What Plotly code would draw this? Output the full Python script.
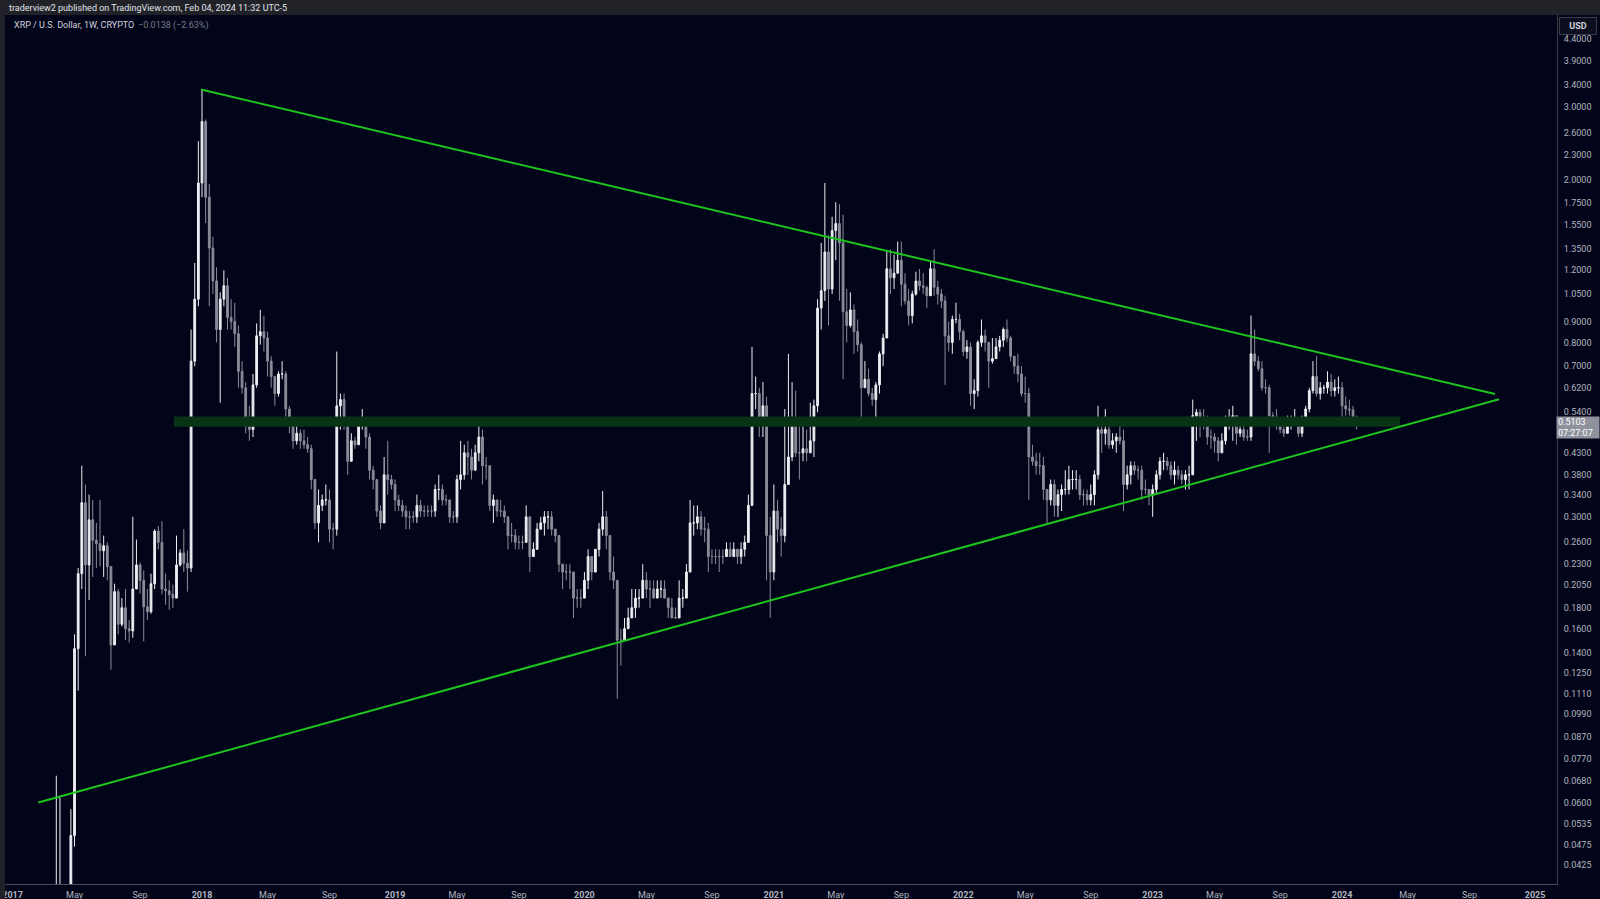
import plotly.graph_objects as go
import pandas as pd

# ---------------- data (weekly XRP / USD, bars start on Mondays) ----------------
first_week = "2017-03-27"
first_open = 0.0095

close_2017 = [0.030, 0.034, 0.032, 0.034, 0.050, 0.143, 0.218, 0.325, 0.229, 0.295,
              0.263, 0.258, 0.248, 0.255, 0.227, 0.146, 0.197, 0.164, 0.180, 0.160,
              0.158, 0.200, 0.229, 0.210, 0.181, 0.176, 0.206, 0.277, 0.260, 0.200,
              0.198, 0.194, 0.190, 0.229, 0.245, 0.231, 0.225, 0.720, 1.020, 1.960]
high_2017 = [0.070, 0.062, 0.036, 0.037, 0.058, 0.155, 0.225, 0.400, 0.360, 0.340,
             0.330, 0.290, 0.330, 0.270, 0.260, 0.227, 0.206, 0.200, 0.190, 0.200,
             0.168, 0.300, 0.264, 0.232, 0.222, 0.200, 0.218, 0.280, 0.285, 0.293,
             0.218, 0.210, 0.205, 0.270, 0.250, 0.280, 0.248, 0.860, 1.250, 2.480]
low_2017 = [0.009, 0.026, 0.029, 0.030, 0.033, 0.047, 0.113, 0.200, 0.137, 0.188,
            0.214, 0.225, 0.227, 0.214, 0.210, 0.127, 0.146, 0.155, 0.162, 0.150,
            0.148, 0.152, 0.200, 0.195, 0.149, 0.168, 0.174, 0.200, 0.250, 0.194,
            0.183, 0.178, 0.180, 0.190, 0.227, 0.220, 0.197, 0.220, 0.700, 0.980]

close_2018 = [2.77, 1.81, 1.36, 1.13, 0.86, 1.02, 1.10, 0.92, 0.90, 0.84, 0.68, 0.62, 0.50,
              0.49, 0.63, 0.83, 0.85, 0.82, 0.72, 0.66, 0.60, 0.67, 0.67, 0.55, 0.50, 0.46,
              0.48, 0.46, 0.45, 0.44, 0.37, 0.29, 0.32, 0.33, 0.33, 0.28, 0.28, 0.56, 0.58,
              0.51, 0.41, 0.46, 0.45, 0.50, 0.51, 0.47, 0.39, 0.37, 0.31, 0.29, 0.38, 0.37, 0.36]
high_2018 = [3.31, 2.80, 1.95, 1.45, 1.22, 1.06, 1.20, 1.15, 1.02, 1.00, 0.88, 0.72, 0.64,
             0.56, 0.67, 0.89, 0.96, 0.93, 0.85, 0.74, 0.66, 0.68, 0.72, 0.68, 0.56, 0.50,
             0.51, 0.49, 0.49, 0.47, 0.45, 0.37, 0.35, 0.34, 0.36, 0.35, 0.29, 0.76, 0.60,
             0.60, 0.51, 0.48, 0.47, 0.51, 0.55, 0.52, 0.48, 0.40, 0.37, 0.32, 0.42, 0.46, 0.38]
low_2018 = [1.81, 1.565, 0.98, 1.05, 0.80, 0.57, 0.98, 0.86, 0.86, 0.78, 0.62, 0.60, 0.48,
            0.46, 0.47, 0.62, 0.79, 0.76, 0.66, 0.62, 0.56, 0.59, 0.65, 0.50, 0.48, 0.44,
            0.45, 0.44, 0.44, 0.43, 0.35, 0.28, 0.26, 0.31, 0.32, 0.26, 0.25, 0.27, 0.49,
            0.49, 0.38, 0.41, 0.44, 0.45, 0.49, 0.44, 0.37, 0.35, 0.30, 0.28, 0.29, 0.34, 0.35]

close_2019 = [0.33, 0.32, 0.31, 0.30, 0.30, 0.30, 0.32, 0.31, 0.31, 0.31, 0.31, 0.35,
              0.35, 0.33, 0.33, 0.30, 0.30, 0.37, 0.38, 0.43, 0.42, 0.39, 0.43, 0.47, 0.40,
              0.40, 0.32, 0.33, 0.31, 0.31, 0.30, 0.27, 0.27, 0.26, 0.26, 0.26, 0.30, 0.24, 0.25,
              0.28, 0.29, 0.30, 0.30, 0.28, 0.27, 0.23, 0.22, 0.22, 0.22, 0.19, 0.19, 0.19]
high_2019 = [0.37, 0.34, 0.33, 0.32, 0.31, 0.31, 0.34, 0.33, 0.32, 0.32, 0.32, 0.36,
             0.38, 0.36, 0.34, 0.33, 0.31, 0.38, 0.46, 0.45, 0.46, 0.44, 0.45, 0.50, 0.49,
             0.42, 0.40, 0.34, 0.33, 0.33, 0.32, 0.30, 0.29, 0.28, 0.27, 0.27, 0.32, 0.30, 0.26,
             0.29, 0.30, 0.31, 0.31, 0.31, 0.28, 0.27, 0.23, 0.23, 0.23, 0.22, 0.20, 0.20]
low_2019 = [0.31, 0.31, 0.30, 0.28, 0.28, 0.29, 0.29, 0.30, 0.30, 0.30, 0.30, 0.30,
            0.33, 0.32, 0.32, 0.29, 0.29, 0.29, 0.35, 0.37, 0.38, 0.37, 0.39, 0.41, 0.36,
            0.37, 0.31, 0.29, 0.30, 0.30, 0.29, 0.25, 0.26, 0.25, 0.25, 0.25, 0.26, 0.22, 0.24,
            0.25, 0.28, 0.27, 0.28, 0.27, 0.26, 0.22, 0.20, 0.21, 0.20, 0.17, 0.18, 0.18]

close_2020 = [0.21, 0.24, 0.22, 0.25, 0.28, 0.30, 0.27, 0.22, 0.21, 0.15, 0.15, 0.16, 0.17,
              0.18, 0.19, 0.19, 0.21, 0.20, 0.20, 0.19, 0.20, 0.20, 0.19, 0.18, 0.17, 0.17,
              0.19, 0.19, 0.22, 0.29, 0.29, 0.30, 0.28, 0.28, 0.24, 0.24, 0.24, 0.24, 0.24,
              0.25, 0.24, 0.25, 0.24, 0.25, 0.26, 0.32, 0.60, 0.60, 0.50, 0.56, 0.27, 0.22]
high_2020 = [0.22, 0.25, 0.24, 0.25, 0.29, 0.347, 0.31, 0.27, 0.24, 0.21, 0.16, 0.17, 0.18,
             0.20, 0.20, 0.20, 0.23, 0.22, 0.21, 0.21, 0.21, 0.21, 0.21, 0.19, 0.19, 0.18,
             0.21, 0.20, 0.23, 0.33, 0.32, 0.32, 0.31, 0.30, 0.29, 0.25, 0.25, 0.25, 0.25,
             0.26, 0.26, 0.26, 0.25, 0.26, 0.27, 0.34, 0.78, 0.66, 0.62, 0.64, 0.59, 0.30]
low_2020 = [0.19, 0.20, 0.21, 0.22, 0.24, 0.27, 0.25, 0.21, 0.20, 0.108, 0.13, 0.15, 0.16,
            0.17, 0.17, 0.18, 0.19, 0.19, 0.18, 0.19, 0.19, 0.19, 0.19, 0.17, 0.17, 0.17,
            0.17, 0.18, 0.19, 0.22, 0.27, 0.28, 0.27, 0.26, 0.22, 0.23, 0.23, 0.22, 0.23,
            0.24, 0.24, 0.24, 0.23, 0.23, 0.24, 0.26, 0.32, 0.55, 0.47, 0.47, 0.21, 0.17]

close_2021 = [0.31, 0.28, 0.27, 0.36, 0.42, 0.52, 0.43, 0.43, 0.44, 0.43, 0.46, 0.56, 0.97,
              1.07, 1.33, 1.08, 1.50, 1.56, 1.40, 0.95, 0.88, 0.96, 0.85, 0.79, 0.62, 0.65,
              0.60, 0.58, 0.63, 0.75, 0.82, 1.21, 1.15, 1.18, 1.27, 1.11, 1.01, 0.93, 1.05,
              1.13, 1.10, 1.09, 1.04, 1.21, 1.09, 1.05, 1.01, 0.83, 0.80, 0.91, 0.91, 0.85]
high_2021 = [0.36, 0.33, 0.30, 0.55, 0.75, 0.64, 0.61, 0.50, 0.50, 0.49, 0.57, 0.58, 1.02,
             1.40, 1.96, 1.46, 1.62, 1.76, 1.74, 1.64, 1.08, 1.06, 0.99, 0.91, 0.80, 0.72,
             0.69, 0.62, 0.64, 0.76, 0.84, 1.34, 1.35, 1.31, 1.41, 1.41, 1.18, 1.08, 1.07,
             1.19, 1.21, 1.18, 1.10, 1.26, 1.35, 1.13, 1.08, 1.04, 0.90, 0.93, 1.00, 0.94]
low_2021 = [0.21, 0.26, 0.24, 0.26, 0.36, 0.41, 0.42, 0.37, 0.41, 0.41, 0.43, 0.42, 0.54,
            0.86, 1.01, 0.88, 1.05, 1.27, 1.01, 0.65, 0.80, 0.87, 0.75, 0.76, 0.51, 0.62,
            0.59, 0.56, 0.52, 0.60, 0.70, 0.82, 1.05, 1.08, 1.18, 0.98, 0.99, 0.88, 0.89,
            1.04, 1.07, 1.05, 0.97, 1.04, 1.04, 0.99, 0.97, 0.63, 0.76, 0.75, 0.89, 0.81]

close_2022 = [0.76, 0.78, 0.60, 0.61, 0.80, 0.83, 0.80, 0.72, 0.73, 0.78, 0.81, 0.86, 0.82,
              0.74, 0.70, 0.67, 0.60, 0.60, 0.42, 0.41, 0.40, 0.40, 0.35, 0.33, 0.36, 0.32,
              0.34, 0.35, 0.35, 0.37, 0.37, 0.37, 0.34, 0.34, 0.33, 0.34, 0.38, 0.49, 0.48,
              0.49, 0.45, 0.46, 0.47, 0.46, 0.36, 0.38, 0.40, 0.39, 0.39, 0.35, 0.35, 0.34]
high_2022 = [0.86, 0.81, 0.80, 0.65, 0.81, 0.91, 0.86, 0.80, 0.82, 0.82, 0.83, 0.87, 0.91,
             0.83, 0.74, 0.75, 0.70, 0.66, 0.62, 0.45, 0.43, 0.43, 0.42, 0.35, 0.37, 0.37,
             0.35, 0.36, 0.39, 0.40, 0.39, 0.39, 0.38, 0.35, 0.35, 0.36, 0.39, 0.56, 0.51,
             0.55, 0.50, 0.48, 0.48, 0.50, 0.49, 0.40, 0.41, 0.41, 0.40, 0.40, 0.37, 0.35]
low_2022 = [0.74, 0.73, 0.56, 0.55, 0.59, 0.78, 0.76, 0.62, 0.71, 0.73, 0.76, 0.78, 0.80,
            0.72, 0.67, 0.64, 0.59, 0.57, 0.33, 0.40, 0.38, 0.38, 0.33, 0.29, 0.32, 0.30,
            0.30, 0.31, 0.34, 0.34, 0.35, 0.35, 0.33, 0.32, 0.32, 0.32, 0.32, 0.37, 0.43,
            0.45, 0.44, 0.44, 0.43, 0.45, 0.31, 0.35, 0.36, 0.38, 0.37, 0.33, 0.34, 0.32]

close_2023 = [0.35, 0.38, 0.41, 0.41, 0.40, 0.38, 0.39, 0.38, 0.37, 0.38, 0.38, 0.53, 0.54,
              0.51, 0.51, 0.47, 0.47, 0.46, 0.43, 0.46, 0.51, 0.52, 0.53, 0.48, 0.49, 0.47,
              0.47, 0.75, 0.72, 0.69, 0.62, 0.62, 0.53, 0.51, 0.50, 0.49, 0.48, 0.50, 0.52,
              0.52, 0.48, 0.52, 0.55, 0.61, 0.66, 0.60, 0.62, 0.62, 0.64, 0.61, 0.62, 0.62]
high_2023 = [0.36, 0.39, 0.42, 0.43, 0.42, 0.41, 0.41, 0.40, 0.39, 0.39, 0.40, 0.58, 0.55,
             0.55, 0.55, 0.53, 0.49, 0.48, 0.47, 0.48, 0.53, 0.55, 0.56, 0.53, 0.50, 0.50,
             0.49, 0.93, 0.86, 0.74, 0.72, 0.65, 0.63, 0.54, 0.55, 0.51, 0.50, 0.53, 0.53,
             0.55, 0.52, 0.53, 0.56, 0.62, 0.72, 0.74, 0.64, 0.63, 0.68, 0.67, 0.65, 0.66]
low_2023 = [0.30, 0.34, 0.37, 0.39, 0.39, 0.37, 0.36, 0.37, 0.36, 0.35, 0.35, 0.38, 0.46,
            0.47, 0.49, 0.45, 0.44, 0.43, 0.41, 0.43, 0.45, 0.49, 0.46, 0.45, 0.47, 0.46,
            0.46, 0.46, 0.70, 0.68, 0.61, 0.60, 0.43, 0.50, 0.49, 0.48, 0.47, 0.48, 0.49,
            0.51, 0.47, 0.47, 0.51, 0.54, 0.60, 0.59, 0.58, 0.60, 0.60, 0.59, 0.59, 0.60]

close_2024 = [0.56, 0.55, 0.547, 0.52, 0.5103]
high_2024 = [0.64, 0.59, 0.58, 0.56, 0.53]
low_2024 = [0.50, 0.53, 0.53, 0.50, 0.49]

closes = close_2017 + close_2018 + close_2019 + close_2020 + close_2021 + close_2022 + close_2023 + close_2024
highs = high_2017 + high_2018 + high_2019 + high_2020 + high_2021 + high_2022 + high_2023 + high_2024
lows = low_2017 + low_2018 + low_2019 + low_2020 + low_2021 + low_2022 + low_2023 + low_2024
opens = [first_open] + closes[:-1]
dates = pd.date_range(first_week, periods=len(closes), freq="7D")

# drawings (trend lines and support band), in date / price coordinates
upper_line_dates = ["2017-12-30", "2024-10-21"]
upper_line_prices = [3.315, 0.5986]
lower_line_dates = ["2017-02-20 10:00", "2024-10-28 16:00"]
lower_line_prices = [0.0602, 0.581]
band_dates = ["2017-11-08 05:00", "2024-04-21 10:00"]
band_prices = [0.4982, 0.5277]

# axis ticks
x_tick_dates = ["2017-01-02", "2017-05-01", "2017-09-04",
                "2018-01-01", "2018-05-07", "2018-09-03",
                "2019-01-07", "2019-05-06", "2019-09-02",
                "2020-01-06", "2020-05-04", "2020-09-07",
                "2021-01-04", "2021-05-03", "2021-09-06",
                "2022-01-03", "2022-05-02", "2022-09-05",
                "2023-01-02", "2023-05-01", "2023-09-04",
                "2024-01-01", "2024-05-06", "2024-09-02",
                "2025-01-06"]
x_tick_labels = ["<b>2017</b>", "May", "Sep", "<b>2018</b>", "May", "Sep",
                 "<b>2019</b>", "May", "Sep", "<b>2020</b>", "May", "Sep",
                 "<b>2021</b>", "May", "Sep", "<b>2022</b>", "May", "Sep",
                 "<b>2023</b>", "May", "Sep", "<b>2024</b>", "May", "Sep",
                 "<b>2025</b>"]
y_tick_values = [4.4, 3.9, 3.4, 3.0, 2.6, 2.3, 2.0, 1.75, 1.55, 1.35, 1.2, 1.05, 0.9, 0.8,
                 0.7, 0.62, 0.54, 0.43, 0.38, 0.34, 0.30, 0.26, 0.23, 0.205, 0.18, 0.16,
                 0.14, 0.125, 0.111, 0.099, 0.087, 0.077, 0.068, 0.060, 0.0535, 0.0475, 0.0425]
y_tick_labels = ["4.4000", "3.9000", "3.4000", "3.0000", "2.6000", "2.3000", "2.0000",
                 "1.7500", "1.5500", "1.3500", "1.2000", "1.0500", "0.9000", "0.8000",
                 "0.7000", "0.6200", "0.5400", "0.4300", "0.3800", "0.3400", "0.3000",
                 "0.2600", "0.2300", "0.2050", "0.1800", "0.1600", "0.1400", "0.1250",
                 "0.1110", "0.0990", "0.0870", "0.0770", "0.0680", "0.0600", "0.0535",
                 "0.0475", "0.0425"]
y_log_range = [-1.4192, 0.7024]
x_range = ["2016-12-08 19:00", "2025-02-17 01:00"]

# ---------------- styling ----------------
BG = "#02051a"
HEADER = "#202228"
UP = "#eeeef2"
DOWN = "#8a8d99"
GREEN = "#1ec41e"
BAND = "#093314"
AXIS_TXT = "#b2b5be"
W, H = 1600, 899
ML, MR, MT, MB = 0, 43, 15, 15
PW, PH = W - ML - MR, H - MT - MB


def px_x(px):
    return (px - ML) / PW


def px_y(py):
    return (H - MB - py) / PH


fig = go.Figure()

# support band
fig.add_trace(go.Scatter(
    x=[band_dates[0], band_dates[1], band_dates[1], band_dates[0], band_dates[0]],
    y=[band_prices[0], band_prices[0], band_prices[1], band_prices[1], band_prices[0]],
    mode="lines", fill="toself", fillcolor=BAND, line=dict(width=0, color=BAND),
    hoverinfo="skip", showlegend=False))

# candles
fig.add_trace(go.Candlestick(
    x=dates, open=opens, high=highs, low=lows, close=closes,
    increasing=dict(line=dict(color=UP, width=1), fillcolor=UP),
    decreasing=dict(line=dict(color=DOWN, width=1), fillcolor=DOWN),
    whiskerwidth=0, showlegend=False, hoverinfo="skip"))

# trend lines
fig.add_trace(go.Scatter(x=upper_line_dates, y=upper_line_prices, mode="lines",
                         line=dict(color=GREEN, width=2), hoverinfo="skip", showlegend=False))
fig.add_trace(go.Scatter(x=lower_line_dates, y=lower_line_prices, mode="lines",
                         line=dict(color=GREEN, width=2), hoverinfo="skip", showlegend=False))

fig.update_layout(
    width=W, height=H,
    margin=dict(l=ML, r=MR, t=MT, b=MB, pad=0),
    paper_bgcolor=BG, plot_bgcolor=BG,
    font=dict(family="Roboto, 'Noto Sans', sans-serif", color=AXIS_TXT, size=9),
    showlegend=False,
    xaxis=dict(type="date", range=x_range, rangeslider=dict(visible=False),
               showgrid=False, zeroline=False, showline=True, linecolor="#4a4d57",
               linewidth=1, ticks="", tickmode="array", tickvals=x_tick_dates,
               ticktext=x_tick_labels, tickfont=dict(size=9, color=AXIS_TXT),
               ticklabelstandoff=2, fixedrange=True),
    yaxis=dict(type="log", range=y_log_range, side="right", showgrid=False,
               zeroline=False, showline=True, linecolor="#3a3d47", linewidth=1,
               ticks="", tickmode="array", tickvals=y_tick_values, ticktext=y_tick_labels,
               tickfont=dict(size=9, color=AXIS_TXT), ticklabelstandoff=4,
               fixedrange=True),
    shapes=[
        dict(type="rect", xref="paper", yref="paper", x0=px_x(0), x1=px_x(W),
             y0=px_y(15), y1=px_y(0), fillcolor=HEADER, line=dict(width=0), layer="above"),
        dict(type="rect", xref="paper", yref="paper", x0=px_x(0), x1=px_x(5),
             y0=px_y(899), y1=px_y(15), fillcolor=HEADER, line=dict(width=0), layer="above"),
    ],
    annotations=[
        dict(xref="paper", yref="paper", x=px_x(7), y=px_y(7.5), xanchor="left",
             yanchor="middle", showarrow=False,
             text="traderview2 published on TradingView.com, Feb 04, 2024 11:32 UTC-5",
             font=dict(size=9, color="#e0e3eb")),
        dict(xref="paper", yref="paper", x=px_x(12), y=px_y(25), xanchor="left",
             yanchor="middle", showarrow=False,
             text="XRP / U.S. Dollar, 1W, CRYPTO",
             font=dict(size=9, color="#d1d4dc")),
        dict(xref="paper", yref="paper", x=px_x(136), y=px_y(25), xanchor="left",
             yanchor="middle", showarrow=False,
             text="\u22120.0138 (\u22122.63%)",
             font=dict(size=9, color="#787b86")),
        dict(xref="paper", yref="paper", x=px_x(1578), y=px_y(26), xanchor="center",
             yanchor="middle", showarrow=False, text="<b>USD</b>",
             font=dict(size=9, color="#d1d4dc"), bgcolor="#0c0f1f",
             bordercolor="#3a3d47", borderwidth=1, width=36, height=16, borderpad=0),
        dict(xref="paper", yref="paper", x=px_x(1578), y=px_y(427), xanchor="center",
             yanchor="middle", showarrow=False, text="0.5103<br>07:27:07",
             align="left", font=dict(size=9, color="#ffffff"), bgcolor="#8f929d",
             width=40, height=19, borderpad=1),
    ],
)

fig.write_html(
    "out.html",
    config={"displayModeBar": False},
    post_script="document.body.style.margin='0';document.body.style.background='%s';" % BG,
)
